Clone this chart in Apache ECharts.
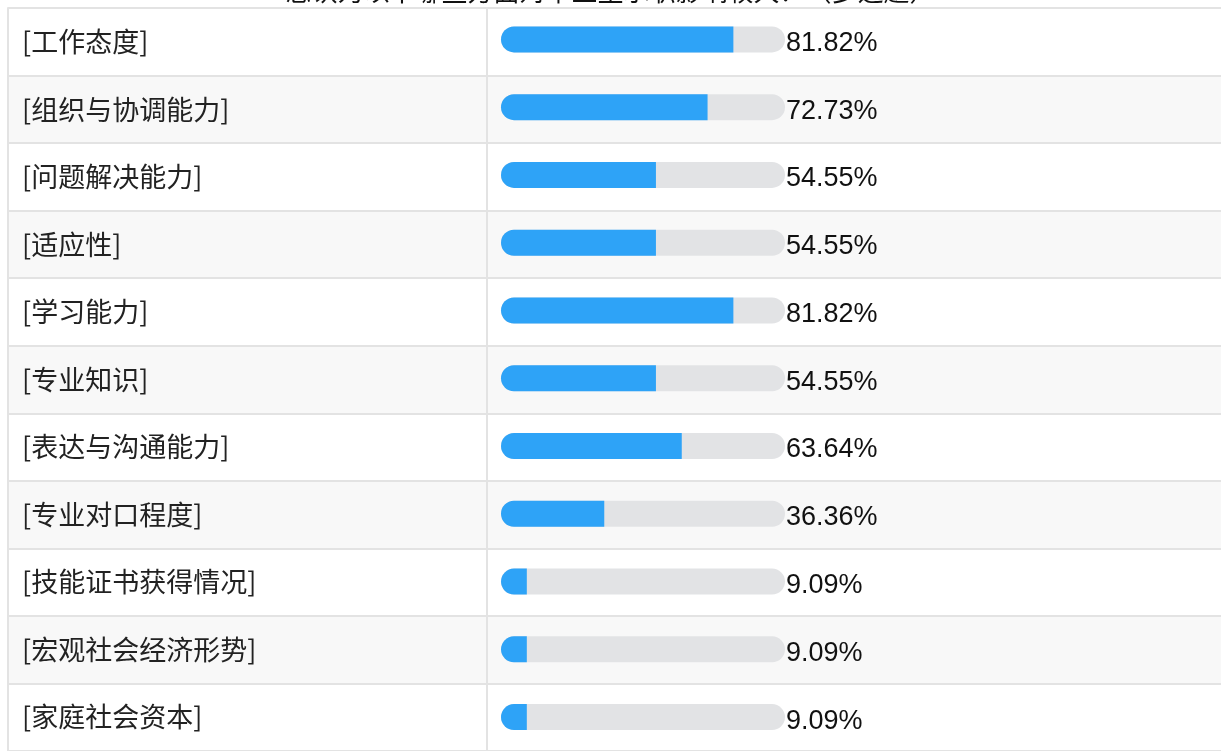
<!DOCTYPE html>
<html>
<head>
<meta charset="utf-8">
<title>能力评价</title>
<script src="https://cdn.jsdelivr.net/npm/echarts@6/dist/echarts.min.js"></script>
<style>
  html, body { margin: 0; padding: 0; background: #ffffff; }
  #chart { width: 1221px; height: 751px; }
</style>
</head>
<body>
<div id="chart"></div>
<script>
// Items rated, in display order (top to bottom)
const categories = [
  '[工作态度]',
  '[组织与协调能力]',
  '[问题解决能力]',
  '[适应性]',
  '[学习能力]',
  '[专业知识]',
  '[表达与沟通能力]',
  '[专业对口程度]',
  '[技能证书获得情况]',
  '[宏观社会经济形势]',
  '[家庭社会资本]'
];

// Share of respondents choosing each item, in percent
const values = [81.82, 72.73, 54.55, 54.55, 81.82, 54.55, 63.64, 36.36, 9.09, 9.09, 9.09];

// Full length of each progress track
const trackMax = 100;

const titleText = '您认为以下哪些方面对毕业生求职影响较大？（多选题）';

const CJK_FONT = '"Noto Sans CJK SC", "Noto Sans", sans-serif';
const NUM_FONT = '"Liberation Sans", Arial, sans-serif';
const LINE_COLOR = '#e3e3e3';
const ROW_COLORS = ['#ffffff', '#f8f8f8'];

const chart = echarts.init(document.getElementById('chart'), null, { renderer: 'canvas' });

// Shared settings for the two table columns (row stripes and row borders)
function tableAxis(gridIndex, showLabels) {
  return {
    type: 'category',
    gridIndex: gridIndex,
    inverse: true,
    data: categories,
    boundaryGap: true,
    axisLine: { show: true, lineStyle: { color: LINE_COLOR, width: 2 } },
    axisTick: { show: false },
    axisLabel: showLabels ? {
      show: true,
      inside: true,
      align: 'left',
      margin: 14,
      fontFamily: CJK_FONT,
      fontSize: 27,
      color: '#222222'
    } : { show: false },
    splitLine: { show: true, lineStyle: { color: LINE_COLOR, width: 2 } },
    splitArea: { show: true, areaStyle: { color: ROW_COLORS } }
  };
}

const option = {
  backgroundColor: '#ffffff',
  animation: false,
  title: {
    text: titleText,
    left: 'center',
    top: -27,
    textStyle: { fontFamily: CJK_FONT, fontSize: 26, fontWeight: 'normal', color: '#111111' }
  },
  grid: [
    { left: 8, top: 8, width: 479, height: 748 },   // label column
    { left: 487, top: 8, right: -20, height: 748 }, // bar column
    { left: 501, top: 5.5, width: 284, height: 748 } // progress bars
  ],
  xAxis: [
    { type: 'value', gridIndex: 0, show: false },
    { type: 'value', gridIndex: 1, show: false },
    { type: 'value', gridIndex: 2, show: false, min: 0, max: trackMax }
  ],
  yAxis: [
    tableAxis(0, true),
    tableAxis(1, false),
    {
      type: 'category',
      gridIndex: 2,
      inverse: true,
      data: categories,
      show: false
    }
  ],
  series: [
    {
      name: 'track',
      type: 'bar',
      xAxisIndex: 2,
      yAxisIndex: 2,
      barWidth: 26,
      barGap: '-100%',
      silent: true,
      data: categories.map(() => trackMax),
      itemStyle: { color: '#e2e3e5', borderRadius: 13 },
      label: {
        show: true,
        position: 'right',
        distance: 1,
        offset: [0, 4],
        fontFamily: NUM_FONT,
        fontSize: 27,
        color: '#111111',
        formatter: (p) => values[p.dataIndex].toFixed(2) + '%'
      }
    },
    {
      name: 'value',
      type: 'bar',
      xAxisIndex: 2,
      yAxisIndex: 2,
      barWidth: 26,
      barGap: '-100%',
      data: values,
      itemStyle: { color: '#2ea3f7', borderRadius: [13, 0, 0, 13] }
    }
  ]
};

chart.setOption(option);
</script>
</body>
</html>
